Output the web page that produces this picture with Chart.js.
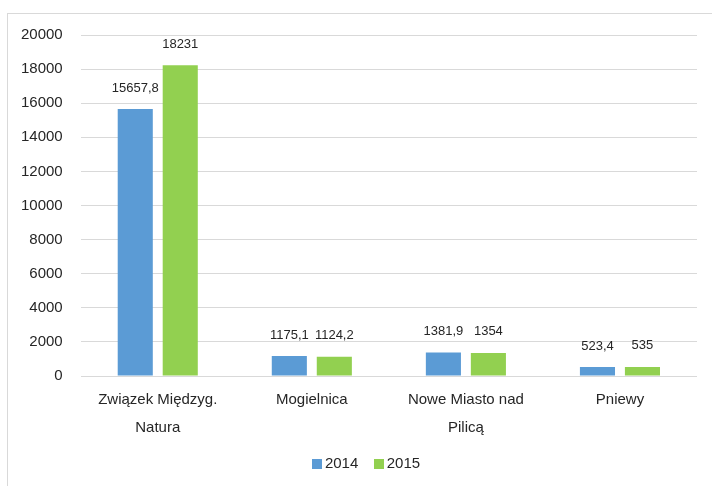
<!DOCTYPE html>
<html><head><meta charset="utf-8">
<script src="https://cdn.jsdelivr.net/npm/chart.js@4/dist/chart.umd.min.js"></script>
<style>html,body{margin:0;padding:0;background:#fff;}#wrap{width:712px;height:486px;position:relative;}</style>
</head><body>
<div id="wrap"><canvas id="c" width="712" height="486"></canvas></div>
<script>
const categories = [['Związek Międzyg.', 'Natura'], 'Mogielnica', ['Nowe Miasto nad', 'Pilicą'], 'Pniewy'];
const values2014 = [15657.8, 1175.1, 1381.9, 523.4];
const values2015 = [18231, 1124.2, 1354, 535];
const seriesNames = ['2014', '2015'];
const yTicks = [0, 2000, 4000, 6000, 8000, 10000, 12000, 14000, 16000, 18000, 20000];

const FONT = '"Liberation Sans", Arial, sans-serif';
const fmt = v => String(v).replace('.', ',');

const borderPlugin = {
  id: 'outerBorder',
  beforeDraw(chart) {
    const ctx = chart.ctx;
    ctx.save();
    ctx.strokeStyle = '#d9d9d9';
    ctx.lineWidth = 1;
    ctx.strokeRect(7.5, 13.5, 800, 600);
    ctx.restore();
  }
};

const labelPlugin = {
  id: 'dataLabels',
  afterDatasetsDraw(chart) {
    const ctx = chart.ctx;
    ctx.save();
    ctx.font = '13px ' + FONT;
    ctx.fillStyle = '#262626';
    ctx.textAlign = 'center';
    ctx.textBaseline = 'middle';
    chart.data.datasets.forEach((ds, i) => {
      const meta = chart.getDatasetMeta(i);
      meta.data.forEach((bar, j) => {
        ctx.fillText(fmt(ds.data[j]), bar.x, bar.y - 21);
      });
    });
    ctx.restore();
  }
};

const legendPlugin = {
  id: 'customLegend',
  afterDraw(chart) {
    const ctx = chart.ctx;
    ctx.save();
    ctx.font = '15px ' + FONT;
    ctx.textBaseline = 'middle';
    ctx.textAlign = 'left';
    const box = 10, gapBox = 3, gapItem = 15.5;
    const items = chart.data.datasets.map(ds => ({ text: ds.label, color: ds.backgroundColor, w: ctx.measureText(ds.label).width }));
    let total = 0;
    items.forEach((it, i) => { total += box + gapBox + it.w + (i < items.length - 1 ? gapItem : 0); });
    const cx = chart.width / 2 + 10;
    const cy = 463.5;
    let x = cx - total / 2;
    items.forEach(it => {
      ctx.fillStyle = it.color;
      ctx.fillRect(Math.round(x), Math.round(cy - 5), box, box);
      ctx.fillStyle = '#262626';
      ctx.fillText(it.text, x + box + gapBox, cy);
      x += box + gapBox + it.w + gapItem;
    });
    ctx.restore();
  }
};

new Chart(document.getElementById('c'), {
  type: 'bar',
  data: {
    labels: categories,
    datasets: [
      { label: seriesNames[0], data: values2014, backgroundColor: '#5b9bd5' },
      { label: seriesNames[1], data: values2015, backgroundColor: '#92d050' }
    ]
  },
  options: {
    responsive: false,
    animation: false,
    devicePixelRatio: 1,
    layout: { padding: { left: 3, right: 15, top: 35, bottom: 42.5 } },
    datasets: { bar: { categoryPercentage: 0.584, barPercentage: 0.78 } },
    scales: {
      x: {
        grid: { display: false },
        border: { display: false },
        ticks: {
          color: '#262626',
          font: { family: FONT, size: 15, lineHeight: 1.85 },
          padding: 2,
          maxRotation: 0
        }
      },
      y: {
        min: 0, max: 20000,
        afterBuildTicks(scale) { scale.ticks = yTicks.map(v => ({ value: v })); },
        grid: { color: '#d9d9d9', lineWidth: 1, drawTicks: false },
        border: { display: false },
        ticks: {
          color: '#262626',
          font: { family: FONT, size: 15 },
          padding: 18,
          callback: v => String(v)
        }
      }
    },
    plugins: {
      legend: { display: false },
      tooltip: { enabled: false }
    }
  },
  plugins: [borderPlugin, labelPlugin, legendPlugin]
});
</script>
</body></html>
